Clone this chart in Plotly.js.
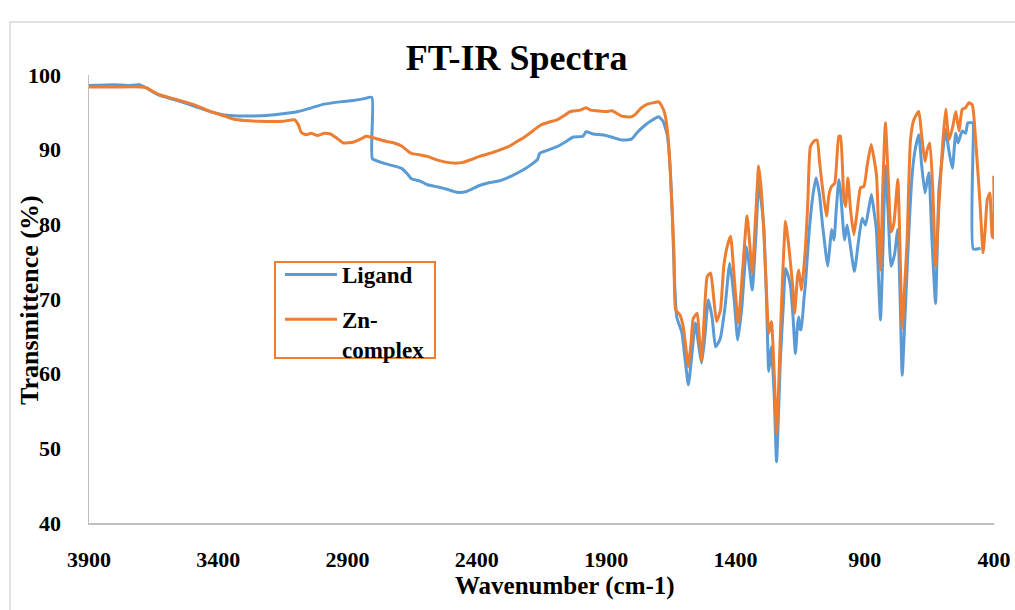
<!DOCTYPE html>
<html>
<head>
<meta charset="utf-8">
<script src="https://cdn.plot.ly/plotly-3.0.1.min.js"></script>
<style>html,body{margin:0;padding:0;background:#fff;}#chart{width:1015px;height:610px;}</style>
</head>
<body>
<div id="chart"></div>
<script>
// Ligand (blue) spectrum: wavenumber / transmittance
const ligandWn = [3900,3800,3750,3705,3680,3630,3560,3492,3430,3367,3300,3204,3150,3091,3040,2991,2930,2879,2840,2806,2804,2770,2741,2691,2670,2653,2620,2591,2550,2516,2478,2440,2390,2350,2315,2265,2220,2190,2165,2157,2120,2090,2050,2027,1990,1977,1950,1915,1880,1840,1802,1780,1752,1720,1697,1680,1664,1655,1645,1635,1627,1620,1607,1595,1582,1570,1555,1543,1531,1518,1505,1490,1477,1465,1458,1440,1422,1405,1391,1375,1357,1345,1335,1320,1310,1300,1290,1280,1271,1265,1261,1250,1241,1232,1226,1215,1206,1195,1187,1178,1168,1160,1155,1150,1146,1135,1129,1115,1100,1088,1075,1064,1050,1043,1035,1028,1019,1010,1000,994,978,968,955,940,925,910,897,885,874,865,855,848,839,830,820,810,798,785,772,763,755,745,736,725,716,705,691,680,667,660,652,640,626,620,613,600,587,575,561,548,539,523,510,501,484,481,480,452];
const ligandT = [98.6,98.7,98.6,98.7,98.3,97.3,96.6,95.8,95.1,94.6,94.5,94.6,94.8,95.1,95.6,96.1,96.4,96.6,96.8,97.0,88.8,88.3,88.0,87.5,86.8,86.1,85.8,85.3,85.0,84.7,84.3,84.4,85.2,85.6,85.8,86.5,87.3,88.0,88.7,89.5,90.0,90.4,91.2,91.7,91.8,92.4,92.1,92.0,91.7,91.3,91.4,92.3,93.2,94.0,94.4,93.8,92.0,89.0,82.0,72.0,67.6,66.8,65.5,62.0,58.5,62.0,66.8,64.0,61.4,65.0,69.9,67.5,63.6,64.2,64.8,69.0,74.8,70.0,64.5,69.0,77.0,74.0,71.2,79.0,85.5,83.0,79.5,70.0,60.3,62.0,63.6,57.0,48.2,56.0,62.0,69.0,74.1,73.0,71.7,68.0,62.7,66.5,67.6,66.0,65.9,70.0,72.1,79.0,84.0,86.2,84.0,80.2,76.0,74.4,77.0,79.3,77.9,82.0,86.0,84.6,77.9,79.9,77.0,73.7,77.5,80.8,79.9,82.0,84.0,82.0,79.3,74.0,67.2,76.0,87.8,82.0,74.4,75.9,79.3,70.0,59.8,67.0,74.0,82.0,86.9,90.0,92.0,88.0,84.2,85.5,86.9,78.0,69.4,76.0,84.6,89.0,92.7,90.0,87.5,92.2,90.9,92.5,92.2,93.6,93.6,93.6,76.7,76.8];

// Zn-complex (orange) spectrum
const znWn = [3900,3800,3700,3680,3630,3560,3492,3430,3367,3342,3300,3242,3150,3104,3090,3079,3060,3041,3016,2990,2966,2940,2916,2879,2850,2828,2791,2750,2720,2691,2670,2653,2620,2591,2560,2541,2491,2453,2420,2390,2340,2300,2278,2240,2215,2180,2153,2120,2090,2060,2040,2000,1977,1960,1940,1900,1877,1840,1802,1785,1764,1740,1715,1697,1680,1671,1660,1651,1638,1631,1615,1602,1590,1583,1572,1563,1548,1540,1531,1520,1509,1496,1485,1473,1458,1445,1432,1419,1405,1389,1372,1355,1345,1335,1322,1310,1300,1290,1280,1271,1261,1250,1241,1233,1226,1215,1206,1195,1187,1178,1171,1160,1155,1144,1129,1120,1110,1095,1084,1075,1064,1048,1038,1028,1016,1000,994,981,974,965,955,942,930,916,903,890,875,865,854,847,839,830,820,810,798,787,772,763,755,745,736,723,710,691,680,667,658,648,636,626,613,600,587,574,560,548,535,523,510,497,484,471,455,442,433,426,416,407,402,401];
const znT = [98.4,98.4,98.4,98.3,97.4,96.7,96.0,95.1,94.4,94.1,93.9,93.8,93.8,94.0,93.3,92.3,92.0,92.2,91.9,92.2,92.1,91.5,90.9,91.0,91.4,91.8,91.5,91.1,90.9,90.5,89.9,89.5,89.3,89.1,88.7,88.5,88.2,88.3,88.7,89.1,89.6,90.1,90.4,91.2,91.7,92.6,93.3,93.7,94.0,94.6,95.1,95.3,95.6,95.3,95.2,95.1,95.2,94.5,94.4,94.8,95.6,96.1,96.3,96.4,95.5,94.5,91.5,86.4,76.6,68.5,67.9,66.3,63.0,60.9,64.0,67.4,68.1,65.0,61.8,68.0,73.0,73.5,70.5,67.0,68.5,74.4,77.0,78.4,73.0,66.8,74.0,81.1,77.5,73.5,81.0,87.8,84.5,78.8,71.0,65.4,67.0,60.0,52.0,58.0,65.4,75.0,80.4,77.5,74.8,71.5,68.1,73.0,73.9,71.2,77.0,83.0,90.4,91.2,91.3,88.5,85.1,81.1,84.0,85.1,85.5,91.8,91.8,83.7,82.4,86.2,82.0,78.6,81.5,84.9,85.1,88.0,90.7,89.0,86.4,80.0,73.9,85.0,93.6,87.0,79.0,80.2,86.0,76.0,66.1,72.0,77.9,91.3,94.0,95.1,92.0,88.4,90.0,90.9,84.0,74.4,82.4,90.0,95.4,91.3,93.0,95.1,92.5,95.4,95.6,96.3,96.0,91.3,83.3,76.2,80.0,83.3,84.2,78.4,78.2,86.5];

const xTicks = [3900,3400,2900,2400,1900,1400,900,400];
const yTicks = [40,50,60,70,80,90,100];

const FONT = 'Liberation Serif, Times New Roman, serif';
const traces = [
  {x: ligandWn, y: ligandT, type: 'scatter', mode: 'lines', name: 'Ligand', legendgroup: 'a',
   line: {color: '#5B9BD5', width: 3, shape: 'spline', smoothing: 0.5}},
  {x: znWn, y: znT, type: 'scatter', mode: 'lines', name: 'Zn-<br>complex', legendgroup: 'b',
   line: {color: '#ED7D31', width: 3, shape: 'spline', smoothing: 0.5}}
];
const layout = {
  width: 1015, height: 610,
  margin: {l: 89, r: 21, t: 75, b: 87},
  paper_bgcolor: '#fff', plot_bgcolor: '#fff',
  font: {family: FONT, color: '#000'},
  title: {text: 'FT-IR Spectra', font: {family: FONT, size: 36, weight: 'bold', color: '#000'},
          xref: 'container', yref: 'container', x: 0.509, xanchor: 'center', y: 0.906, yanchor: 'middle'},
  xaxis: {range: [3900, 400], tickvals: xTicks, ticktext: xTicks.map(String), ticks: '',
          showline: true, linecolor: '#BFBFBF', linewidth: 1.5, showgrid: false, zeroline: false,
          tickfont: {family: FONT, size: 22, weight: 'bold', color: '#000'}, ticklabelstandoff: 16},
  yaxis: {range: [40, 100], tickvals: yTicks, ticks: '',
          showline: true, linecolor: '#BFBFBF', linewidth: 1.5, showgrid: false, zeroline: false,
          tickfont: {family: FONT, size: 22, weight: 'bold', color: '#000'}, ticklabelstandoff: 22},
  showlegend: true,
  legend: {x: 0.2110, y: 0.6027, xanchor: 'left', yanchor: 'top', bgcolor: 'rgba(0,0,0,0)',
           borderwidth: 0, valign: 'top', tracegroupgap: 12, itemwidth: 52,
           font: {family: FONT, size: 23, weight: 'bold', color: '#000'}},
  annotations: [
    {text: 'Transmittence (%)', textangle: -90, xref: 'paper', yref: 'paper', x: -0.0652, y: 0.4978,
     xanchor: 'center', yanchor: 'middle', showarrow: false,
     font: {family: FONT, size: 26, weight: 'bold', color: '#000'}},
    {text: 'Wavenumber (cm-1)', xref: 'paper', yref: 'paper', x: 0.5265, y: -0.141,
     xanchor: 'center', yanchor: 'middle', showarrow: false,
     font: {family: FONT, size: 25, weight: 'bold', color: '#000'}}
  ],
  shapes: [
    {type: 'rect', xref: 'paper', yref: 'paper', x0: -0.0873, x1: 2, y0: -1, y1: 1.1183,
     line: {color: '#D9D9D9', width: 1.5}, fillcolor: 'rgba(0,0,0,0)', layer: 'below'},
    {type: 'rect', xref: 'paper', yref: 'paper', x0: 0.2055, x1: 0.3823, y0: 0.3683, y1: 0.5826,
     line: {color: '#ED7D31', width: 2}, fillcolor: '#fff', layer: 'below'}
  ]
};
Plotly.newPlot('chart', traces, layout, {displayModeBar: false, staticPlot: true});
</script>
</body>
</html>
